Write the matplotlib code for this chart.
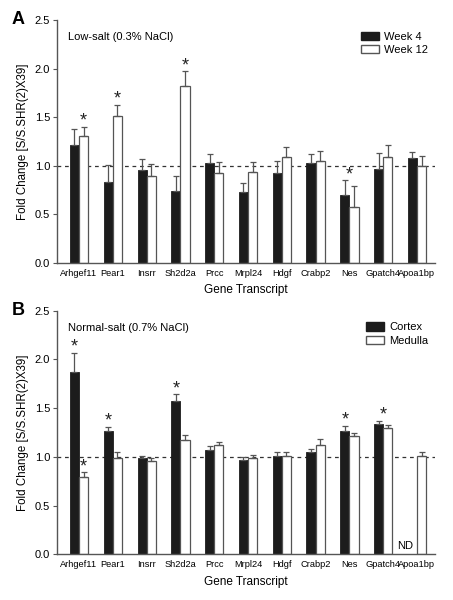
import numpy as np
import matplotlib
matplotlib.use("Agg")
import matplotlib.pyplot as plt
from matplotlib.patches import Patch

genes = ["Arhgef11", "Pear1", "Insrr", "Sh2d2a", "Prcc", "Mrpl24", "Hdgf",
         "Crabp2", "Nes", "Gpatch4", "Apoa1bp"]

# Panel A: Low-salt
week4 = [1.21, 0.83, 0.96, 0.74, 1.03, 0.73, 0.93, 1.03, 0.70, 0.97, 1.08]
week4_err = [0.17, 0.18, 0.11, 0.15, 0.09, 0.09, 0.12, 0.09, 0.15, 0.16, 0.06]
week12 = [1.31, 1.51, 0.89, 1.82, 0.93, 0.94, 1.09, 1.05, 0.58, 1.09, 1.00]
week12_err = [0.09, 0.12, 0.13, 0.15, 0.11, 0.10, 0.10, 0.10, 0.21, 0.12, 0.10]
# star annotations: (gene index, which bar: 'b' black, 'w' white, 'c' centre)
starsA = [(0, "w"), (1, "w"), (3, "w"), (8, "c")]

# Panel B: Normal-salt
cortex = [1.87, 1.27, 0.99, 1.57, 1.07, 0.97, 1.01, 1.05, 1.27, 1.34, np.nan]
cortex_err = [0.20, 0.04, 0.02, 0.07, 0.04, 0.03, 0.04, 0.03, 0.05, 0.03, np.nan]
medulla = [0.79, 0.99, 0.96, 1.17, 1.12, 0.99, 1.01, 1.12, 1.21, 1.30, 1.01]
medulla_err = [0.05, 0.06, 0.03, 0.05, 0.03, 0.03, 0.04, 0.06, 0.03, 0.03, 0.04]
starsB = [(0, "b"), (0, "w"), (1, "b"), (3, "b"), (8, "b"), (9, "c")]

dark = "#1c1c1c"
edge = "#555555"

fig = plt.figure(figsize=(4.53, 6.0), dpi=100)
plt.rcParams['font.family'] = ['Liberation Sans', 'DejaVu Sans']

w = 0.27
x = np.arange(len(genes))


def panel(ax, v1, e1, v2, e2, stars, title, labels, letter):
    v1 = np.array(v1, float); e1 = np.array(e1, float)
    v2 = np.array(v2, float); e2 = np.array(e2, float)
    m1 = ~np.isnan(v1)
    ax.bar(x[m1] - w / 2, v1[m1], w, color=dark, edgecolor=dark, linewidth=0.6, zorder=2)
    ax.errorbar(x[m1] - w / 2, v1[m1], yerr=[np.zeros(m1.sum()), e1[m1]], fmt="none",
                ecolor=edge, elinewidth=0.9, capsize=2, capthick=0.9, zorder=3)
    ax.bar(x + w / 2, v2, w, color="white", edgecolor=edge, linewidth=0.9, zorder=2)
    ax.errorbar(x + w / 2, v2, yerr=[np.zeros(len(v2)), e2], fmt="none",
                ecolor=edge, elinewidth=0.9, capsize=2, capthick=0.9, zorder=3)
    ax.axhline(1.0, color="#333333", linestyle=(0, (3, 3)), linewidth=0.9, zorder=1)
    for i, which in stars:
        if which == "b":
            xs, top = i - w / 2, v1[i] + e1[i]
        elif which == "w":
            xs, top = i + w / 2, v2[i] + e2[i]
        else:
            xs = i
            top = np.nanmax([v1[i] + e1[i], v2[i] + e2[i]])
        ax.text(xs, top - 0.03, "*", ha="center", va="bottom", fontsize=13,
                color="#222222")
    ax.set_xlim(-0.65, 10.53)
    ax.set_ylim(0, 2.5)
    ax.set_yticks([0, 0.5, 1.0, 1.5, 2.0, 2.5])
    ax.set_yticklabels(["0.0", "0.5", "1.0", "1.5", "2.0", "2.5"], fontsize=8)
    ax.set_xticks(x)
    ax.set_xticklabels(genes, fontsize=6.7)
    ax.tick_params(axis="x", length=0, pad=4)
    ax.tick_params(axis="y", length=3, width=0.8, color=edge, direction="out", pad=2)
    for s in ["top", "right"]:
        ax.spines[s].set_visible(False)
    for s in ["left", "bottom"]:
        ax.spines[s].set_color(edge)
        ax.spines[s].set_linewidth(1.0)
    ax.set_xlabel("Gene Transcript", fontsize=8.5, labelpad=5)
    ax.set_ylabel("Fold Change [S/S.SHR(2)X39]", fontsize=8.3, labelpad=4)
    ax.text(0.03, 0.95, title, transform=ax.transAxes, fontsize=8, va="top", ha="left")
    handles = [Patch(facecolor=dark, edgecolor=dark), Patch(facecolor="white", edgecolor=edge)]
    ax.legend(handles, labels, loc="upper right", bbox_to_anchor=(1.0, 0.98), frameon=False,
              fontsize=8, handlelength=1.6, handleheight=0.8, labelspacing=0.3,
              handletextpad=0.5, borderaxespad=0.2)
    ax.text(-0.12, 1.0, letter, transform=ax.transAxes, fontsize=13, fontweight="bold",
            va="center", ha="left")


axA = fig.add_axes([0.126, 0.5617, 0.834, 0.405])
panel(axA, week4, week4_err, week12, week12_err, starsA, "Low-salt (0.3% NaCl)",
      ["Week 4", "Week 12"], "A")

axB = fig.add_axes([0.126, 0.0762, 0.834, 0.406])
panel(axB, cortex, cortex_err, medulla, medulla_err, starsB, "Normal-salt (0.7% NaCl)",
      ["Cortex", "Medulla"], "B")
axB.text(9.88, 0.03, "ND", ha="right", va="bottom", fontsize=8)

fig.savefig("out.png", dpi=100)
